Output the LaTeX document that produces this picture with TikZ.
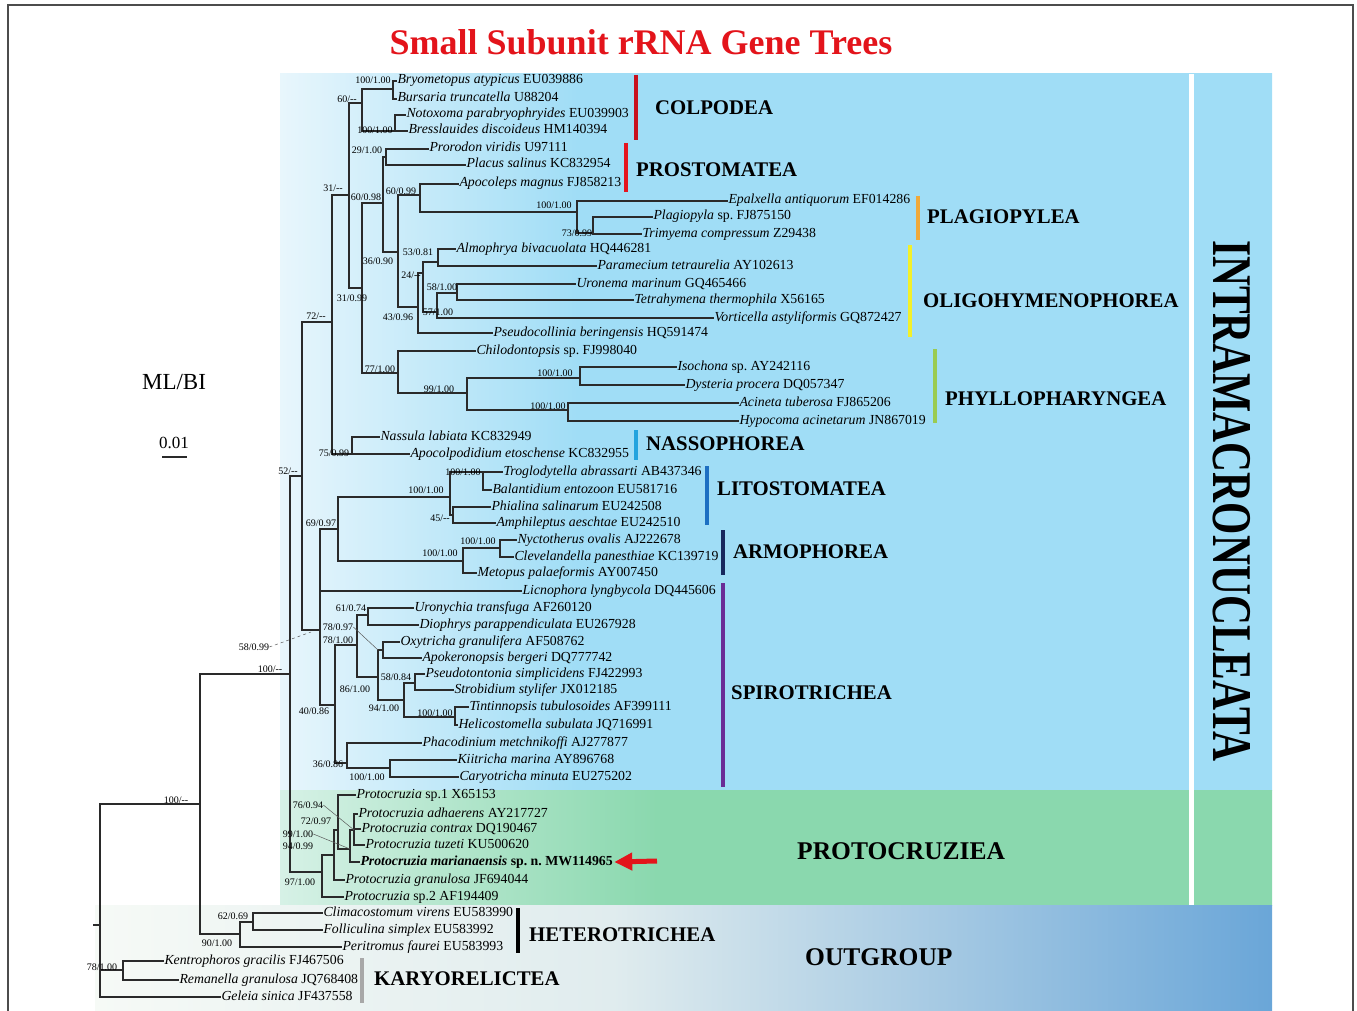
\documentclass[tikz,border=0pt]{standalone}
\usepackage{fontspec}
\setmainfont{Liberation Serif}
\usepackage{graphicx}
\usetikzlibrary{arrows.meta}
\frenchspacing
\definecolor{blueR}{HTML}{A0DDF6}
\definecolor{blueL}{HTML}{E8F6FC}
\definecolor{greenR}{HTML}{8AD8AE}
\definecolor{greenL}{HTML}{D6F1E6}
\definecolor{outL}{HTML}{F6FAF6}
\definecolor{outM}{HTML}{E0ECEE}
\definecolor{outR}{HTML}{6AA6D8}
\definecolor{titlered}{HTML}{E3141B}
\definecolor{colpred}{HTML}{C8101E}
\definecolor{prostred}{HTML}{E5141E}
\definecolor{plagor}{HTML}{F0A93A}
\definecolor{oligoy}{HTML}{F2F02A}
\definecolor{phyllg}{HTML}{9ACB52}
\definecolor{nassc}{HTML}{22A3DE}
\definecolor{litob}{HTML}{1D6FC2}
\definecolor{armon}{HTML}{18285E}
\definecolor{spirp}{HTML}{6A2C96}
\definecolor{karyg}{HTML}{A8A8A8}
\definecolor{branchc}{HTML}{2A2A2A}
\pgfdeclarehorizontalshading{blueshade}{100bp}{color(0bp)=(blueL); color(25bp)=(blueL); color(40bp)=(blueR); color(100bp)=(blueR)}
\pgfdeclarehorizontalshading{greenshade}{100bp}{color(0bp)=(greenL); color(25bp)=(greenL); color(44bp)=(greenR); color(100bp)=(greenR)}
\pgfdeclarehorizontalshading{outshade}{100bp}{color(0bp)=(outL); color(25bp)=(outL); color(47bp)=(outM); color(75bp)=(outR); color(100bp)=(outR)}
\tikzset{
 br/.style={draw=branchc, line width=1.3pt, line cap=rect},
 leaf/.style={anchor=west, inner sep=1.5pt, outer sep=0pt, font=\fontsize{13.8}{15}\selectfont, text height=9pt, text depth=3pt},
 sup/.style={inner sep=0pt, font=\fontsize{10}{11}\selectfont},
 ip/.style={inner sep=0pt, outer sep=0pt, minimum size=0pt},
 grp/.style={anchor=west, inner sep=0pt, font=\fontsize{20.8}{22}\selectfont\bfseries},
 bigrp/.style={anchor=west, inner sep=0pt, font=\fontsize{25.5}{28}\selectfont\bfseries},
 gbar/.style={line width=3.5pt},
 leader/.style={draw=gray!70!black, line width=0.5pt},
}
\newcommand\tclade[4]{%
  \draw[br] (#1 |- #2.west) -- (#1 |- #3.west);
  \foreach \c in {#4} {\draw[br] (#1 |- \c.west) -- (\c.west);}
}
\begin{document}
\begin{tikzpicture}[x=1pt,y=1pt]
\useasboundingbox (0,0) rectangle (1357,-1011);
% backgrounds
\shade[shading=blueshade] (280,-74) rectangle (1272,-790);
\shade[shading=greenshade] (280,-790) rectangle (1272,-905);
\shade[shading=outshade] (95,-905) rectangle (1272,-1010);
\fill[white] (1189,-74) rectangle (1194,-905);
% frame
\draw[gray!60!black, line width=1.2pt] (8,-1011) -- (8,-5) -- (1353,-5) -- (1353,-1011);
% title and legend
\node[text=titlered, font=\fontsize{36}{40}\selectfont\bfseries] (title) at (641,-42) {Small Subunit rRNA Gene Trees};
\node[font=\fontsize{23}{26}\selectfont] (mlbi) at (174,-382) {ML/BI};
\node[font=\fontsize{17}{20}\selectfont] (scl) at (174,-443) {0.01};
\coordinate (sbl) at (163,-457);
\coordinate (sbr) at (186,-457);
\draw[br] (sbl) -- (sbr);
% leaves
\node[leaf] (bryo) at (396,-81) {\textit{Bryometopus atypicus} EU039886};
\node[leaf] (bursa) at (396,-99) {\textit{Bursaria truncatella} U88204};
\node[leaf] (notox) at (405,-115) {\textit{Notoxoma parabryophryides} EU039903};
\node[leaf] (bress) at (407,-131) {\textit{Bresslauides discoideus} HM140394};
\node[leaf] (proro) at (428,-149) {\textit{Prorodon viridis} U97111};
\node[leaf] (placus) at (465,-165) {\textit{Placus salinus} KC832954};
\node[leaf] (apoco) at (458,-184) {\textit{Apocoleps magnus} FJ858213};
\node[leaf] (epalx) at (727,-201) {\textit{Epalxella antiquorum} EF014286};
\node[leaf] (plagio) at (652,-217) {\textit{Plagiopyla} sp. FJ875150};
\node[leaf] (trimy) at (641,-234) {\textit{Trimyema compressum} Z29438};
\node[leaf] (almo) at (455,-249) {\textit{Almophrya bivacuolata} HQ446281};
\node[leaf] (param) at (596,-266) {\textit{Paramecium tetraurelia} AY102613};
\node[leaf] (urone) at (575,-284) {\textit{Uronema marinum} GQ465466};
\node[leaf] (tetra) at (633,-300) {\textit{Tetrahymena thermophila} X56165};
\node[leaf] (vorti) at (713,-318) {\textit{Vorticella astyliformis} GQ872427};
\node[leaf] (pseudoc) at (492,-333) {\textit{Pseudocollinia beringensis} HQ591474};
\node[leaf] (chilo) at (475,-351) {\textit{Chilodontopsis} sp. FJ998040};
\node[leaf] (isoch) at (676,-367) {\textit{Isochona} sp. AY242116};
\node[leaf] (dyst) at (684,-385) {\textit{Dysteria procera} DQ057347};
\node[leaf] (acine) at (738,-403) {\textit{Acineta tuberosa} FJ865206};
\node[leaf] (hypoc) at (738,-421) {\textit{Hypocoma acinetarum} JN867019};
\node[leaf] (nassu) at (379,-437) {\textit{Nassula labiata} KC832949};
\node[leaf] (apocol) at (409,-454) {\textit{Apocolpodidium etoschense} KC832955};
\node[leaf] (troglo) at (502,-472) {\textit{Troglodytella abrassarti} AB437346};
\node[leaf] (balan) at (491,-490) {\textit{Balantidium entozoon} EU581716};
\node[leaf] (phial) at (490,-507) {\textit{Phialina salinarum} EU242508};
\node[leaf] (amphi) at (495,-523) {\textit{Amphileptus aeschtae} EU242510};
\node[leaf] (nycto) at (516,-540) {\textit{Nyctotherus ovalis} AJ222678};
\node[leaf] (cleve) at (513,-557) {\textit{Clevelandella panesthiae} KC139719};
\node[leaf] (metop) at (476,-573) {\textit{Metopus palaeformis} AY007450};
\node[leaf] (licno) at (521,-591) {\textit{Licnophora lyngbycola} DQ445606};
\node[leaf] (urony) at (413,-608) {\textit{Uronychia transfuga} AF260120};
\node[leaf] (dioph) at (418,-625) {\textit{Diophrys parappendiculata} EU267928};
\node[leaf] (oxytr) at (399,-642) {\textit{Oxytricha granulifera} AF508762};
\node[leaf] (apoke) at (421,-658) {\textit{Apokeronopsis bergeri} DQ777742};
\node[leaf] (pseudot) at (424,-674) {\textit{Pseudotontonia simplicidens} FJ422993};
\node[leaf] (strob) at (453,-690) {\textit{Strobidium stylifer} JX012185};
\node[leaf] (tintin) at (468,-707) {\textit{Tintinnopsis tubulosoides} AF399111};
\node[leaf] (helic) at (457,-725) {\textit{Helicostomella subulata} JQ716991};
\node[leaf] (phaco) at (421,-743) {\textit{Phacodinium metchnikoffi} AJ277877};
\node[leaf] (kiitr) at (456,-760) {\textit{Kiitricha marina} AY896768};
\node[leaf] (caryo) at (458,-777) {\textit{Caryotricha minuta} EU275202};
\node[leaf] (psp1) at (355,-795) {\textit{Protocruzia} sp.1 X65153};
\node[leaf] (padh) at (357,-814) {\textit{Protocruzia adhaerens} AY217727};
\node[leaf] (pcon) at (360,-829) {\textit{Protocruzia contrax} DQ190467};
\node[leaf] (ptuz) at (364,-845) {\textit{Protocruzia tuzeti} KU500620};
\node[leaf] (pmar) at (359,-862) {\textbf{\textit{Protocruzia marianaensis} sp. n. MW114965}};
\node[leaf] (pgra) at (344,-880) {\textit{Protocruzia granulosa} JF694044};
\node[leaf] (psp2) at (343,-897) {\textit{Protocruzia} sp.2 AF194409};
\node[leaf] (clima) at (322,-913) {\textit{Climacostomum virens} EU583990};
\node[leaf] (folli) at (322,-930) {\textit{Folliculina simplex} EU583992};
\node[leaf] (perit) at (341,-947) {\textit{Peritromus faurei} EU583993};
\node[leaf] (kentr) at (163,-961) {\textit{Kentrophoros gracilis} FJ467506};
\node[leaf] (reman) at (178,-980) {\textit{Remanella granulosa} JQ768408};
\node[leaf] (gelei) at (220,-997) {\textit{Geleia sinica} JF437558};
% internal nodes
\node[ip] (nBB) at (393,-89) {};
\node[ip] (nNB) at (395,-131) {};
\node[ip] (nCol) at (362,-103) {};
\node[ip] (nPP) at (386,-157) {};
\node[ip] (nB) at (349,-195) {};
\node[ip] (nC) at (362,-288) {};
\node[ip] (nE) at (383,-203) {};
\node[ip] (nG) at (398,-252) {};
\node[ip] (nF) at (420,-195) {};
\node[ip] (nPl) at (577,-212) {};
\node[ip] (nPT) at (593,-233) {};
\node[ip] (nH) at (418,-307) {};
\node[ip] (nI) at (423,-273) {};
\node[ip] (nJ) at (438,-262) {};
\node[ip] (nK) at (437,-312) {};
\node[ip] (nL) at (457,-293) {};
\node[ip] (nD) at (398,-373) {};
\node[ip] (nM) at (467,-393) {};
\node[ip] (nN) at (580,-378) {};
\node[ip] (nO) at (568,-410) {};
\node[ip] (nA) at (332,-322) {};
\node[ip] (nP) at (352,-454) {};
\node[ip] (nR) at (302,-476) {};
\node[ip] (nT) at (320,-630) {};
\node[ip] (nU) at (338,-529) {};
\node[ip] (nV) at (450,-497) {};
\node[ip] (nW) at (483,-472) {};
\node[ip] (nX) at (453,-515) {};
\node[ip] (nY) at (463,-561) {};
\node[ip] (nZ) at (500,-548) {};
\node[ip] (n40) at (335,-705) {};
\node[ip] (n78) at (357,-645) {};
\node[ip] (n61) at (368,-615) {};
\node[ip] (n86) at (378,-677) {};
\node[ip] (nOA) at (383,-650) {};
\node[ip] (n94) at (404,-700) {};
\node[ip] (n58) at (415,-683) {};
\node[ip] (nTH) at (455,-717) {};
\node[ip] (n36) at (347,-763) {};
\node[ip] (nKC) at (390,-768) {};
\node[ip] (nS) at (290,-674) {};
\node[ip] (nPc) at (322,-872) {};
\node[ip] (nP94) at (334,-855) {};
\node[ip] (nP72) at (338,-830) {};
\node[ip] (nP99) at (350,-849) {};
\node[ip] (nP76) at (354,-830) {};
\node[ip] (nR2) at (200,-804) {};
\node[ip] (nHet) at (240,-934) {};
\node[ip] (nCF) at (253,-922) {};
\node[ip] (nRoot) at (100,-925) {};
\node[ip] (nKR) at (123,-970) {};
\coordinate (rootend) at (94,-925);
% branches
\tclade{nBB}{bryo}{bursa}{bryo,bursa}
\tclade{nNB}{notox}{bress}{notox,bress}
\tclade{nCol}{nBB}{nNB}{nBB,nNB}
\tclade{nPP}{proro}{placus}{proro,placus}
\tclade{nB}{nCol}{nC}{nCol,nC}
\tclade{nC}{nE}{nD}{nE,nD}
\tclade{nE}{nPP}{nG}{nPP,nG}
\tclade{nG}{nF}{nH}{nF,nH}
\tclade{nF}{apoco}{nPl}{apoco,nPl}
\tclade{nPl}{epalx}{nPT}{epalx,nPT}
\tclade{nPT}{plagio}{trimy}{plagio,trimy}
\tclade{nH}{nI}{pseudoc}{nI,pseudoc}
\tclade{nI}{nJ}{nK}{nJ,nK}
\tclade{nJ}{almo}{param}{almo,param}
\tclade{nK}{nL}{vorti}{nL,vorti}
\tclade{nL}{urone}{tetra}{urone,tetra}
\tclade{nD}{chilo}{nM}{chilo,nM}
\tclade{nM}{nN}{nO}{nN,nO}
\tclade{nN}{isoch}{dyst}{isoch,dyst}
\tclade{nO}{acine}{hypoc}{acine,hypoc}
\tclade{nA}{nB}{nP}{nB,nP}
\tclade{nP}{nassu}{apocol}{nassu,apocol}
\tclade{nR}{nA}{nT}{nA,nT}
\tclade{nT}{nU}{n40}{nU,licno,n40}
\tclade{nU}{nV}{nY}{nV,nY}
\tclade{nV}{nW}{nX}{nW,nX}
\tclade{nW}{troglo}{balan}{troglo,balan}
\tclade{nX}{phial}{amphi}{phial,amphi}
\tclade{nY}{nZ}{metop}{nZ,metop}
\tclade{nZ}{nycto}{cleve}{nycto,cleve}
\tclade{n40}{n78}{n36}{n78,n36}
\tclade{n78}{n61}{n86}{n61,n86}
\tclade{n61}{urony}{dioph}{urony,dioph}
\tclade{n86}{nOA}{n94}{nOA,n94}
\tclade{nOA}{oxytr}{apoke}{oxytr,apoke}
\tclade{n94}{n58}{nTH}{n58,nTH}
\tclade{n58}{pseudot}{strob}{pseudot,strob}
\tclade{nTH}{tintin}{helic}{tintin,helic}
\tclade{n36}{phaco}{nKC}{phaco,nKC}
\tclade{nKC}{kiitr}{caryo}{kiitr,caryo}
\tclade{nS}{nR}{nPc}{nR,nPc}
\tclade{nPc}{nP94}{psp2}{nP94,psp2}
\tclade{nP94}{nP72}{pgra}{nP72,pgra}
\tclade{nP72}{psp1}{nP99}{psp1,nP99}
\tclade{nP99}{nP76}{pmar}{nP76,pmar}
\tclade{nP76}{padh}{ptuz}{padh,pcon,ptuz}
\tclade{nR2}{nS}{nHet}{nS,nHet}
\tclade{nHet}{nCF}{perit}{nCF,perit}
\tclade{nCF}{clima}{folli}{clima,folli}
\tclade{nRoot}{nR2}{gelei}{nR2,nKR,gelei}
\tclade{nKR}{kentr}{reman}{kentr,reman}
\draw[br] (rootend) -- (nRoot);
% support values
\node[sup] (s1) at (373,-80) {100/1.00};
\node[sup] (s2) at (347,-99) {60/-{}-};
\node[sup] (s3) at (375,-130) {100/1.00};
\node[sup] (s4) at (367,-150) {29/1.00};
\node[sup] (s5) at (333,-188) {31/-{}-};
\node[sup] (s6) at (366,-197) {60/0.98};
\node[sup] (s7) at (401,-191) {60/0.99};
\node[sup] (s8) at (554,-205) {100/1.00};
\node[sup] (s9) at (577,-233) {73/0.99};
\node[sup] (s10) at (418,-252) {53/0.81};
\node[sup] (s11) at (378,-261) {36/0.90};
\node[sup] (s12) at (411,-275) {24/-{}-};
\node[sup] (s13) at (442,-287) {58/1.00};
\node[sup] (s14) at (352,-298) {31/0.99};
\node[sup] (s15) at (438,-312) {57/1.00};
\node[sup] (s16) at (316,-316) {72/-{}-};
\node[sup] (s17) at (398,-317) {43/0.96};
\node[sup] (s18) at (380,-369) {77/1.00};
\node[sup] (s19) at (555,-373) {100/1.00};
\node[sup] (s20) at (439,-389) {99/1.00};
\node[sup] (s21) at (548,-406) {100/1.00};
\node[sup] (s22) at (334,-453) {75/0.99};
\node[sup] (s23) at (288,-471) {52/-{}-};
\node[sup] (s24) at (463,-472) {100/1.00};
\node[sup] (s25) at (426,-490) {100/1.00};
\node[sup] (s26) at (440,-518) {45/-{}-};
\node[sup] (s27) at (321,-523) {69/0.97};
\node[sup] (s28) at (478,-541) {100/1.00};
\node[sup] (s29) at (440,-553) {100/1.00};
\node[sup] (s30) at (351,-608) {61/0.74};
\node[sup] (s31) at (338,-627) {78/0.97};
\node[sup] (s32) at (338,-640) {78/1.00};
\node[sup] (s33) at (254,-647) {58/0.99};
\node[sup] (s34) at (270,-669) {100/-{}-};
\node[sup] (s35) at (396,-677) {58/0.84};
\node[sup] (s36) at (355,-689) {86/1.00};
\node[sup] (s37) at (384,-708) {94/1.00};
\node[sup] (s38) at (314,-711) {40/0.86};
\node[sup] (s39) at (435,-713) {100/1.00};
\node[sup] (s40) at (328,-764) {36/0.86};
\node[sup] (s41) at (367,-777) {100/1.00};
\node[sup] (s42) at (176,-800) {100/-{}-};
\node[sup] (s43) at (308,-805) {76/0.94};
\node[sup] (s44) at (316,-821) {72/0.97};
\node[sup] (s45) at (298,-834) {99/1.00};
\node[sup] (s46) at (298,-846) {94/0.99};
\node[sup] (s47) at (300,-882) {97/1.00};
\node[sup] (s48) at (233,-916) {62/0.69};
\node[sup] (s49) at (217,-943) {90/1.00};
\node[sup] (s50) at (102,-967) {78/1.00};
% leader lines
\draw[leader, dashed] (s33.east) -- ([xshift=-9pt,yshift=-2pt]nT.center);
\draw[leader] (s31.east) -- (n86 |- nOA);
\draw[leader] (s43.east) -- (nP76);
\draw[leader] (s45.east) -- (nP99);
% group bars
\draw[gbar, colpred] (636,-75) -- (636,-140);
\draw[gbar, prostred] (626,-143) -- (626,-192);
\draw[gbar, plagor] (918,-196) -- (918,-240);
\draw[gbar, oligoy] (910,-245) -- (910,-337);
\draw[gbar, phyllg] (935,-349) -- (935,-423);
\draw[gbar, nassc] (636,-430) -- (636,-460);
\draw[gbar, litob] (707,-466) -- (707,-525);
\draw[gbar, armon] (723,-530) -- (723,-575);
\draw[gbar, spirp] (723,-583) -- (723,-787);
\draw[gbar, black] (518,-908) -- (518,-953);
\draw[gbar, karyg] (362,-958) -- (362,-1003);
% group names
\node[grp] (gcolp) at (655,-108) {COLPODEA};
\node[grp] (gprost) at (636,-170) {PROSTOMATEA};
\node[grp] (gplag) at (927,-217) {PLAGIOPYLEA};
\node[grp] (goligo) at (923,-301) {OLIGOHYMENOPHOREA};
\node[grp] (gphyl) at (945,-399) {PHYLLOPHARYNGEA};
\node[grp] (gnass) at (646,-444) {NASSOPHOREA};
\node[grp] (glito) at (717,-489) {LITOSTOMATEA};
\node[grp] (garmo) at (733,-552) {ARMOPHOREA};
\node[grp] (gspiro) at (731,-693) {SPIROTRICHEA};
\node[bigrp] (gproto) at (797,-851) {PROTOCRUZIEA};
\node[grp] (ghet) at (529,-935) {HETEROTRICHEA};
\node[grp] (gkary) at (374,-979) {KARYORELICTEA};
\node[bigrp] (gout) at (805,-957) {OUTGROUP};
\node[rotate=-90, inner sep=0pt, font=\fontsize{41.5}{44}\selectfont\bfseries] (gintra) at (1232,-501) {\scalebox{1}[1.35]{INTRAMACRONUCLEATA}};
% red arrow
\coordinate (arrtail) at (657,-861);
\draw[titlered, line width=5pt, -{Triangle[length=18pt,width=17pt]}] (arrtail) -- (pmar.east);
\end{tikzpicture}
\end{document}
